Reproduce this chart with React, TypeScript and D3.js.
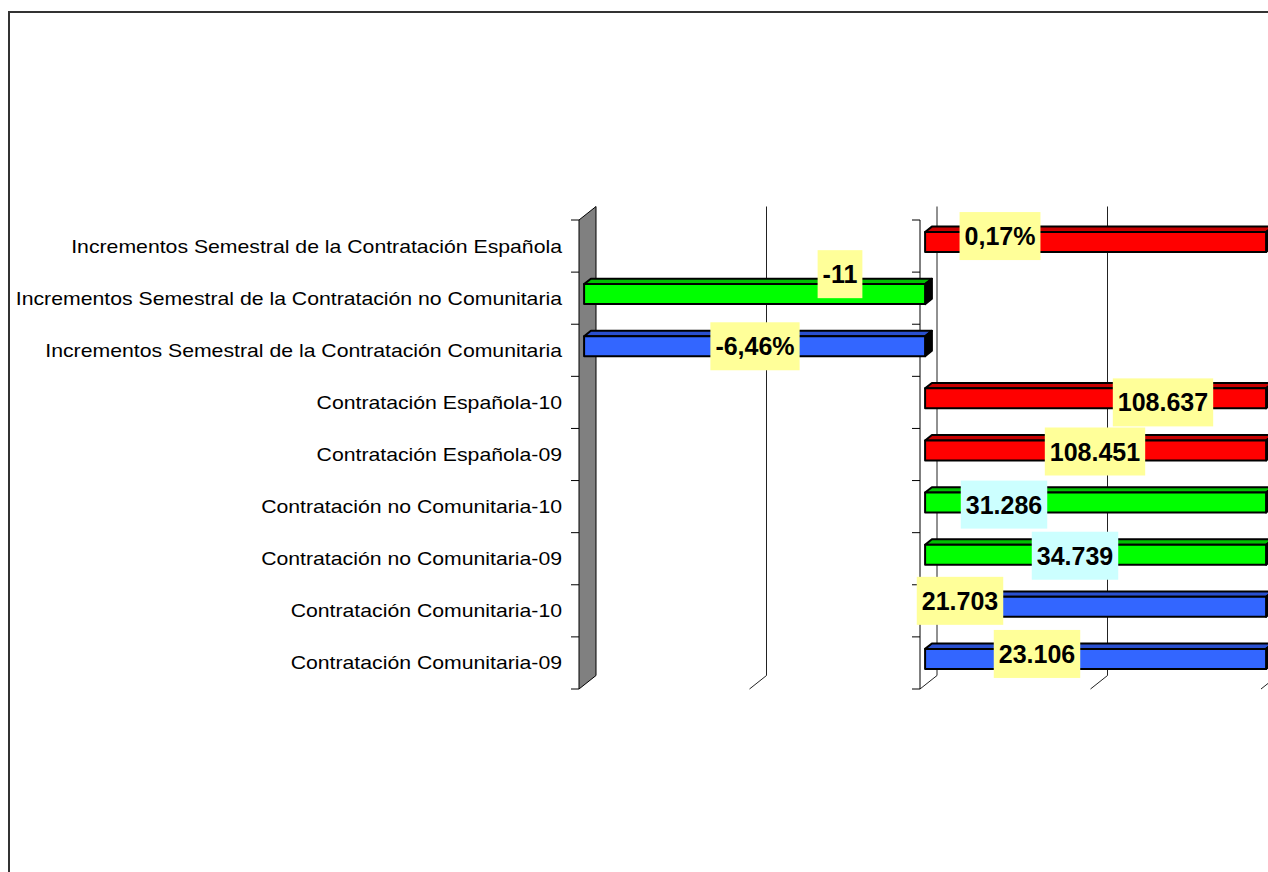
import React, { useEffect, useRef } from "react";
import * as d3 from "d3";

const categories = [
  "Incrementos Semestral de la Contratación Española",
  "Incrementos Semestral de la Contratación no Comunitaria",
  "Incrementos Semestral de la Contratación Comunitaria",
  "Contratación Española-10",
  "Contratación Española-09",
  "Contratación no Comunitaria-10",
  "Contratación no Comunitaria-09",
  "Contratación Comunitaria-10",
  "Contratación Comunitaria-09",
];
const values = [0.17, -11, -6.46, 108637, 108451, 31286, 34739, 21703, 23106];
const valueLabels = ["0,17%", "-11", "-6,46%", "108.637", "108.451", "31.286", "34.739", "21.703", "23.106"];
const seriesGroup = ["esp", "noc", "com", "esp", "esp", "noc", "noc", "com", "com"];
const labelBg = ["y", "y", "y", "y", "y", "c", "c", "y", "y"];
const axisDomain = [-0.1, 0.1];
const gridValues = [-0.05, 0, 0.05, 0.1];

// layout (pixels) for the manually placed data labels: [dx from zero, dy from band centre]
const labelOffsets: [number, number][] = [
  [80, -10], [-80, -24], [-165, -4], [243, 0], [175, -3], [84, -2], [155, -3], [40, -10], [117, -9],
];

const colors: Record<string, { front: string; top: string }> = {
  esp: { front: "#FF0000", top: "#C80000" },
  noc: { front: "#00FF00", top: "#00C000" },
  com: { front: "#3366FF", top: "#2A50D0" },
};
const bgColors: Record<string, string> = { y: "#FFFF99", c: "#CCFFFF" };

export default function App() {
  const ref = useRef<SVGSVGElement>(null);

  useEffect(() => {
    const svg = d3.select(ref.current);
    svg.selectAll("*").remove();

    const W = 1268, H = 872;
    const DX = 17, DY = -13.5; // depth vector
    const f1 = 0.3, f2 = 0.7;
    const x = d3.scaleLinear().domain(axisDomain).range([579, 1261]).clamp(true);
    const y = d3.scaleBand<string>().domain(categories).range([220, 689]).padding(0);
    const barH = 20;

    // frame
    svg.append("rect").attr("x", 9).attr("y", 12).attr("width", W + 20).attr("height", H + 20)
      .attr("fill", "white").attr("stroke", "#333").attr("stroke-width", 2);

    const top = 220, bot = 689;
    // wall
    const x0 = x(axisDomain[0]);
    svg.append("polygon")
      .attr("points", [[x0, top], [x0 + DX, top + DY], [x0 + DX, bot + DY], [x0, bot]].map(p => p.join(",")).join(" "))
      .attr("fill", "#808080").attr("stroke", "#000").attr("stroke-width", 1);

    // gridlines on back plane + floor diagonals
    gridValues.forEach(v => {
      const gx = x(v);
      svg.append("path")
        .attr("d", `M${gx + DX},${top + DY}L${gx + DX},${bot + DY}L${gx},${bot}`)
        .attr("fill", "none").attr("stroke", "#222").attr("stroke-width", 1);
    });

    // axis at zero (front) + ticks
    const z = x(0);
    svg.append("line").attr("x1", z).attr("x2", z).attr("y1", top).attr("y2", bot)
      .attr("stroke", "#000").attr("stroke-width", 1);
    const edges = categories.map(c => y(c)!).concat([bot]);
    edges.forEach(e => {
      svg.append("line").attr("x1", z - 8).attr("x2", z).attr("y1", e).attr("y2", e).attr("stroke", "#000");
      svg.append("line").attr("x1", x0 - 8).attr("x2", x0).attr("y1", e).attr("y2", e).attr("stroke", "#000");
    });

    // category labels
    categories.forEach(c => {
      const cy = y(c)! + y.bandwidth() / 2;
      svg.append("text")
        .attr("transform", `translate(562,${cy + 6.5}) scale(1.18,1)`)
        .attr("text-anchor", "end")
        .attr("font-family", "'Liberation Sans', Arial, sans-serif")
        .attr("font-size", 18)
        .attr("fill", "#000")
        .text(c);
    });

    // bars
    categories.forEach((c, i) => {
      const v = values[i];
      const col = colors[seriesGroup[i]];
      const cy = y(c)! + y.bandwidth() / 2 + DY * f1;
      const xa = x(Math.min(0, v)) + DX * f1;
      const xb = x(Math.max(0, v)) + DX * f1;
      const yt = cy - barH / 2, yb = cy + barH / 2;
      const ddx = DX * (f2 - f1), ddy = DY * (f2 - f1);
      const g = svg.append("g").attr("stroke", "#000").attr("stroke-width", 2).attr("stroke-linejoin", "round");
      // top face
      g.append("polygon")
        .attr("points", [[xa, yt], [xa + ddx, yt + ddy], [xb + ddx, yt + ddy], [xb, yt]].map(p => p.join(",")).join(" "))
        .attr("fill", col.top);
      // end face
      g.append("polygon")
        .attr("points", [[xb, yt], [xb + ddx, yt + ddy], [xb + ddx, yb + ddy], [xb, yb]].map(p => p.join(",")).join(" "))
        .attr("fill", "#000");
      // front face
      g.append("rect").attr("x", xa).attr("y", yt).attr("width", xb - xa).attr("height", barH)
        .attr("fill", col.front);
    });

    // data labels
    categories.forEach((c, i) => {
      const cx = z + labelOffsets[i][0];
      const cy = y(c)! + y.bandwidth() / 2 + labelOffsets[i][1];
      const g = svg.append("g");
      const rect = g.append("rect").attr("fill", bgColors[labelBg[i]]);
      const t = g.append("text")
        .attr("x", cx).attr("y", cy + 9)
        .attr("text-anchor", "middle")
        .attr("font-family", "'Liberation Sans', Arial, sans-serif")
        .attr("font-weight", "bold")
        .attr("font-size", 25)
        .attr("fill", "#000")
        .text(valueLabels[i]);
      const w = (t.node() as SVGTextElement).getComputedTextLength();
      rect.attr("x", cx - w / 2 - 5).attr("y", cy - 24).attr("width", w + 10).attr("height", 48);
    });
  }, []);

  return (
    <svg ref={ref} width={1268} height={872}
      style={{ position: "absolute", left: 0, top: 0, background: "white" }} />
  );
}
